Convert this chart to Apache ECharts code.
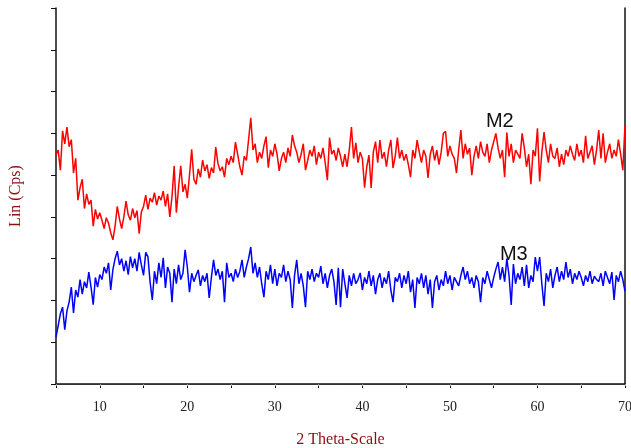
<!DOCTYPE html>
<html><head><meta charset="utf-8">
<script src="https://cdn.jsdelivr.net/npm/echarts@6/dist/echarts.min.js"></script>
<style>html,body{margin:0;padding:0;background:#fff}#c{width:631px;height:448px}</style>
</head><body><div id="c"></div>
<script>
// 2-theta sampling grid (degrees)
const xStart = 5, xStep = 0.25;
// Lin (Cps), one value per 0.25 deg from 5 to 70
const m2 = [
548,560,512,606, 575,615,568,585, 505,540,440,470, 490,420,455,430, 440,378,418,395,
410,392,372,398, 385,362,345,378, 425,395,372,400, 438,405,392,420, 398,415,360,412,
425,452,418,445, 435,458,428,450, 440,462,425,455, 400,448,522,410, 470,522,460,478,
445,500,562,490, 478,515,495,536, 510,525,492,518, 505,567,528,510, 520,495,540,525,
545,530,579,550, 520,500,545,535, 585,637,560,575, 530,555,540,570, 592,518,560,545,
575,550,510,540, 555,530,565,545, 596,570,555,530, 550,575,512,535, 560,545,570,525,
555,540,565,530, 488,590,550,560, 535,565,545,520, 550,520,560,615, 540,577,530,555,
540,470,520,548, 469,555,580,530, 584,540,555,520, 560,584,517,545, 590,540,560,535,
550,525,495,560, 540,584,555,530, 560,545,493,550, 570,535,560,525, 555,600,605,545,
570,550,540,505, 560,608,540,575, 550,565,500,545, 570,540,580,555, 545,575,530,560,
580,600,565,540, 560,495,602,545, 575,530,560,550, 540,600,565,520, 550,478,560,545,
612,485,555,603, 560,530,575,545, 540,565,520,550, 525,560,545,570, 550,535,575,545,
560,530,594,540, 555,570,525,560, 608,540,600,530, 555,575,540,560, 545,585,550,512,
620
];
const m3 = [
112,140,168,184, 130,175,196,232, 170,225,208,250, 215,245,230,268, 232,190,255,232,
262,250,280,265, 290,225,274,300, 318,285,300,270, 295,262,305,278, 300,270,315,285,
260,315,305,244, 201,270,240,290, 255,302,230,280, 265,196,275,240, 285,250,265,321,
280,220,265,245, 260,273,235,260, 245,265,206,255, 297,260,275,250, 270,196,290,255,
265,245,275,255, 270,297,255,280, 300,328,265,290, 255,280,240,208, 270,250,285,240,
275,235,265,255, 285,245,270,250, 182,260,297,240, 265,235,184,270, 250,275,245,265,
255,282,240,265, 230,260,275,245, 189,278,184,275, 240,206,260,235, 265,240,250,266,
225,255,240,270, 235,260,215,250, 265,230,255,240, 270,225,196,255, 245,265,230,260,
240,270,220,250, 182,255,240,265, 230,260,215,250, 182,245,260,225, 250,235,270,240,
260,225,255,245, 235,260,280,250, 270,240,255,230, 260,245,196,255, 240,270,250,230,
255,275,292,250, 280,245,300,260, 189,287,240,265, 250,280,235,285, 230,260,245,304,
270,304,240,187, 265,245,275,230, 260,280,245,270, 250,292,255,275, 240,265,250,270,
255,235,260,245, 270,240,258,250, 245,265,235,270, 255,240,268,201, 260,245,270,250,
222
];
const xTickLabels = [10, 20, 30, 40, 50, 60, 70];
const seriesNames = ['M2', 'M3'];
const labelPos = [[55.7, 629], [57.3, 311]];

const toPairs = arr => arr.map((v, i) => [xStart + i * xStep, v]);
const serif = 'Liberation Serif';
const dark = '#8b1010';

const chart = echarts.init(document.getElementById('c'), null, {renderer: 'canvas'});
const mkLabel = (name, pos) => ({
  symbol: 'rect', symbolSize: 1, silent: true,
  itemStyle: {color: 'rgba(0,0,0,0)'},
  label: {show: true, position: 'inside', formatter: name, color: '#111',
          fontFamily: 'Liberation Sans', fontSize: 20},
  data: [{coord: pos}]
});
chart.setOption({
  animation: false,
  backgroundColor: '#fff',
  grid: {left: 56, right: 6, top: 8, bottom: 64, containLabel: false, outerBoundsMode: 'none'},
  xAxis: [{
    type: 'value', min: 5, max: 70, interval: 5,
    name: '2 Theta-Scale', nameLocation: 'middle', nameGap: 48,
    nameTextStyle: {fontFamily: serif, fontSize: 16, color: dark},
    axisLine: {lineStyle: {color: '#111', width: 1.5}},
    axisTick: {show: true, length: 4, lineStyle: {color: '#111'}},
    axisLabel: {fontFamily: serif, fontSize: 14, color: '#222', margin: 16,
      showMaxLabel: true, showMinLabel: true, hideOverlap: false,
      formatter: v => xTickLabels.includes(v) ? String(v) : ''},
    splitLine: {show: false}
  }, {
    type: 'value', position: 'top', min: 5, max: 70, interval: 5,
    axisLine: {show: true, lineStyle: {color: '#333', width: 1}},
    axisTick: {show: true, inside: true, length: 2, lineStyle: {color: '#999'}},
    axisLabel: {show: false}, splitLine: {show: false}
  }],
  yAxis: [{
    type: 'value', min: 0, max: 900, interval: 100,
    name: 'Lin (Cps)', nameLocation: 'middle', nameGap: 32, nameRotate: 90,
    nameTextStyle: {fontFamily: serif, fontSize: 16, color: dark},
    axisLine: {show: true, lineStyle: {color: '#111', width: 1.5}},
    axisTick: {show: true, length: 5, lineStyle: {color: '#111'}},
    axisLabel: {show: false}, splitLine: {show: false}
  }, {
    type: 'value', position: 'right', min: 0, max: 900, interval: 100,
    axisLine: {show: true, lineStyle: {color: '#111', width: 1.5}},
    axisTick: {show: false}, axisLabel: {show: false}, splitLine: {show: false}
  }],
  series: [{
    name: seriesNames[0], type: 'line', data: toPairs(m2), showSymbol: false,
    lineStyle: {color: '#ff0000', width: 1.5}, itemStyle: {color: '#ff0000'},
    markPoint: mkLabel(seriesNames[0], labelPos[0])
  }, {
    name: seriesNames[1], type: 'line', data: toPairs(m3), showSymbol: false,
    lineStyle: {color: '#0000ff', width: 1.5}, itemStyle: {color: '#0000ff'},
    markPoint: mkLabel(seriesNames[1], labelPos[1])
  }]
});
</script>
</body></html>
